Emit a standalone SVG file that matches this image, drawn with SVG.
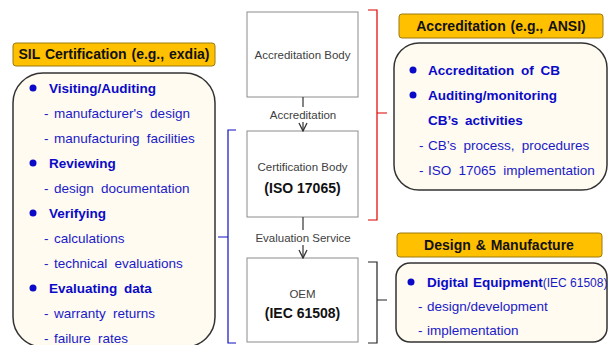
<svg xmlns="http://www.w3.org/2000/svg" width="609" height="345" viewBox="0 0 609 345">
<defs>
<style>
.title{fill:#FFC000;stroke:#9C7A10;stroke-width:1}
.panel{fill:#FFFBF0;stroke:#333;stroke-width:1.5}
.tt{font-family:"Liberation Sans",Arial,sans-serif;font-size:14px;font-weight:bold;fill:#111;text-anchor:middle;word-spacing:1px}
.b{font-family:"Liberation Sans",Arial,sans-serif;font-size:13.5px;font-weight:bold;fill:#0A0AC8;word-spacing:3px}
.s{font-family:"Liberation Sans",Arial,sans-serif;font-size:13.5px;fill:#1A1AC8;word-spacing:3.5px}
.box{fill:#fff;stroke:#8C8C8C;stroke-width:1}
.bt{font-family:"Liberation Sans",Arial,sans-serif;font-size:11.5px;fill:#404040;text-anchor:middle}
.bb{font-family:"Liberation Sans",Arial,sans-serif;font-size:14px;font-weight:bold;fill:#111;text-anchor:middle}
.lbl{font-family:"Liberation Sans",Arial,sans-serif;font-size:11.5px;fill:#404040;text-anchor:middle}
.dot{fill:#0A0AC8}
.con{stroke:#333;stroke-width:1.2;fill:none}
</style>
<marker id="arr" viewBox="0 0 10 10" refX="9" refY="5" markerWidth="10" markerHeight="10" markerUnits="userSpaceOnUse" orient="auto">
<path d="M1,1 L9,5 L1,9" fill="none" stroke="#333" stroke-width="1.3"/>
</marker>
</defs>
<rect width="609" height="345" fill="#fff"/>

<g id="sil">
<rect class="title" x="13" y="43" width="202" height="23" rx="3"/>
<text class="tt" x="114" y="59">SIL Certification (e.g., exdia)</text>
<rect class="panel" x="13" y="73" width="202" height="274" rx="30"/>
<circle class="dot" cx="33" cy="88" r="3.5"/>
<text class="b" x="49" y="93">Visiting/Auditing</text>
<text class="s" x="44" y="118">-<tspan x="54">manufacturer's design</tspan></text>
<text class="s" x="44" y="143">-<tspan x="54">manufacturing facilities</tspan></text>
<circle class="dot" cx="33" cy="163" r="3.5"/>
<text class="b" x="49" y="168">Reviewing</text>
<text class="s" x="44" y="193">-<tspan x="54">design documentation</tspan></text>
<circle class="dot" cx="33" cy="213" r="3.5"/>
<text class="b" x="49" y="218">Verifying</text>
<text class="s" x="44" y="243">-<tspan x="54">calculations</tspan></text>
<text class="s" x="44" y="268">-<tspan x="54">technical evaluations</tspan></text>
<circle class="dot" cx="33" cy="288" r="3.5"/>
<text class="b" x="49" y="293">Evaluating data</text>
<text class="s" x="44" y="318">-<tspan x="54">warranty returns</tspan></text>
<text class="s" x="44" y="343">-<tspan x="54">failure rates</tspan></text>
</g>

<g id="accreditation">
<rect class="title" x="399" y="14" width="204" height="24" rx="3"/>
<text class="tt" x="501" y="31">Accreditation (e.g., ANSI)</text>
<rect class="panel" x="394" y="43" width="213" height="147" rx="25"/>
<circle class="dot" cx="413" cy="70" r="3.5"/>
<text class="b" x="428" y="75">Accreditation of CB</text>
<circle class="dot" cx="413" cy="95" r="3.5"/>
<text class="b" x="428" y="100">Auditing/monitoring</text>
<text class="b" x="428" y="125">CB’s activities</text>
<text class="s" x="419" y="150">-<tspan x="428">CB’s process, procedures</tspan></text>
<text class="s" x="419" y="175">-<tspan x="428">ISO 17065 implementation</tspan></text>
</g>

<g id="design">
<rect class="title" x="397" y="233" width="205" height="24" rx="3"/>
<text class="tt" x="499" y="250">Design &amp; Manufacture</text>
<rect class="panel" x="396" y="263" width="211" height="79" rx="14"/>
<circle class="dot" cx="411" cy="282" r="3.5"/>
<text x="427" y="287"><tspan class="b" style="word-spacing:1px">Digital Equipment</tspan><tspan class="s" style="font-size:12px;word-spacing:0">(IEC 61508)</tspan></text>
<text class="s" x="418" y="311">-<tspan x="427">design/development</tspan></text>
<text class="s" x="418" y="335">-<tspan x="427">implementation</tspan></text>
</g>

<g id="ab">
<rect class="box" x="247" y="12" width="111" height="85"/>
<text class="bt" x="302.5" y="59">Accreditation Body</text>
</g>
<g id="cb">
<rect class="box" x="247" y="131" width="111" height="86"/>
<text class="bt" x="302.5" y="171">Certification Body</text>
<text class="bb" x="302.5" y="193">(ISO 17065)</text>
</g>
<g id="oem">
<rect class="box" x="247" y="258" width="111" height="84"/>
<text class="bt" x="302.5" y="298">OEM</text>
<text class="bb" x="302.5" y="318">(IEC 61508)</text>
</g>

<g id="connectors">
<line class="con" x1="303" y1="97" x2="303" y2="131" marker-end="url(#arr)"/>
<rect x="266" y="107" width="74" height="15" fill="#fff"/>
<text class="lbl" x="303" y="119">Accreditation</text>
<line class="con" x1="303" y1="217" x2="303" y2="258" marker-end="url(#arr)"/>
<rect x="254" y="230" width="98" height="15" fill="#fff"/>
<text class="lbl" x="303" y="242">Evaluation Service</text>
<path d="M368,10 H377 V113 H387 M377,113 V220 H368" fill="none" stroke="#E00000" stroke-width="1.2"/>
<path d="M368,262 H377 V300 H387 M377,300 V343 H368" fill="none" stroke="#222" stroke-width="1.2"/>
<path d="M236,130 H228 V237 H218 M228,237 V343 H236" fill="none" stroke="#1010C0" stroke-width="1.2"/>
</g>
</svg>
